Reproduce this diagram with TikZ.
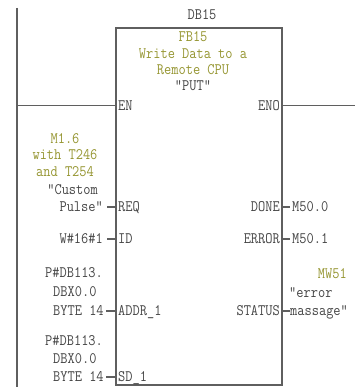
\documentclass[tikz,border=0pt]{standalone}
\usepackage{fontspec}
\newfontfamily\plcfont{Latin Modern Mono}[FakeStretch=0.875]
\definecolor{olivetxt}{RGB}{150,150,50}
\definecolor{darktxt}{RGB}{70,70,70}
\definecolor{linegray}{RGB}{95,95,95}
\begin{document}
\begin{tikzpicture}[x=1pt,y=-1pt,
  lbl/.style={inner sep=0pt,text height=9.8pt,text depth=0pt,text=darktxt,font=\plcfont\fontsize{16}{17}\selectfont},
  olv/.style={lbl,text=olivetxt},
  wire/.style={draw=linegray,line width=1.3pt}]
\useasboundingbox (0,0) rectangle (355,387);
\fill[white] (0,0) rectangle (355,387);
% block
\node[wire,draw,anchor=north west,inner sep=0pt,outer sep=0pt,minimum width=166pt,minimum height=357pt] (fb) at (116,28) {};
% rail
\coordinate (railtop) at (17,8);
\coordinate (railbot) at (17,387);
\draw[wire] (railtop) -- (railbot);
% header texts
\node[lbl] (db) at (202,15) {DB15};
\node[olv] (fbn) at (193,37) {FB15};
\node[olv] (t1) at (193,53.5) {Write Data to a};
\node[olv] (t2) at (193,70) {Remote CPU};
\node[lbl] (t3) at (193,86) {“PUT”};
% EN / ENO
\node[lbl,anchor=west] (en) at (118,105.5) {EN};
\node[lbl,anchor=east] (eno) at (280,105.5) {ENO};
\coordinate (enl) at (17,105.5);
\coordinate (enor) at (355,105.5);
\draw[wire] (enl) -- (fb.west |- en);
\draw[wire] (fb.east |- eno) -- (enor);
% left inputs
\node[olv] (m16) at (65,139) {M1.6};
\node[olv] (w246) at (65,155) {with T246};
\node[olv] (a254) at (65,172) {and T254};
\node[lbl,anchor=east] (cust) at (98,190) {“Custom};
\node[lbl,anchor=east] (pulse) at (103,207) {Pulse”};
\node[lbl,anchor=west] (req) at (118,207) {REQ};
\draw[wire] (fb.west |- req) -- ++(-9,0);
\node[lbl,anchor=east] (w16) at (103,239) {W\#16\#1};
\node[lbl,anchor=west] (id) at (118,239) {ID};
\draw[wire] (fb.west |- id) -- ++(-9,0);
\node[lbl,anchor=west] (p1) at (45,273) {P\#DB113.};
\node[lbl,anchor=west] (d1) at (53,292) {DBX0.0};
\node[lbl,anchor=west] (b1) at (53,311) {BYTE 14};
\node[lbl,anchor=west] (addr) at (118,311) {ADDR\_1};
\draw[wire] (fb.west |- addr) -- ++(-10,0);
\node[lbl,anchor=west] (p2) at (45,341) {P\#DB113.};
\node[lbl,anchor=west] (d2) at (53,359) {DBX0.0};
\node[lbl,anchor=west] (b2) at (53,377) {BYTE 14};
\node[lbl,anchor=west] (sd) at (118,377) {SD\_1};
\draw[wire] (fb.west |- sd) -- ++(-10,0);
% right outputs
\node[lbl,anchor=east] (done) at (280,207) {DONE};
\node[lbl,anchor=west] (m500) at (292,207) {M50.0};
\draw[wire] (fb.east |- done) -- ++(8,0);
\node[lbl,anchor=east] (err) at (280,239) {ERROR};
\node[lbl,anchor=west] (m501) at (292,239) {M50.1};
\draw[wire] (fb.east |- err) -- ++(8,0);
\node[lbl,anchor=east] (stat) at (280,311) {STATUS};
\node[olv,anchor=east] (mw51) at (347,274) {MW51};
\node[lbl,anchor=west] (erq) at (289,293) {“error};
\node[lbl,anchor=west] (mass) at (290,311) {massage”};
\draw[wire] (fb.east |- stat) -- ++(8,0);
\end{tikzpicture}
\end{document}
